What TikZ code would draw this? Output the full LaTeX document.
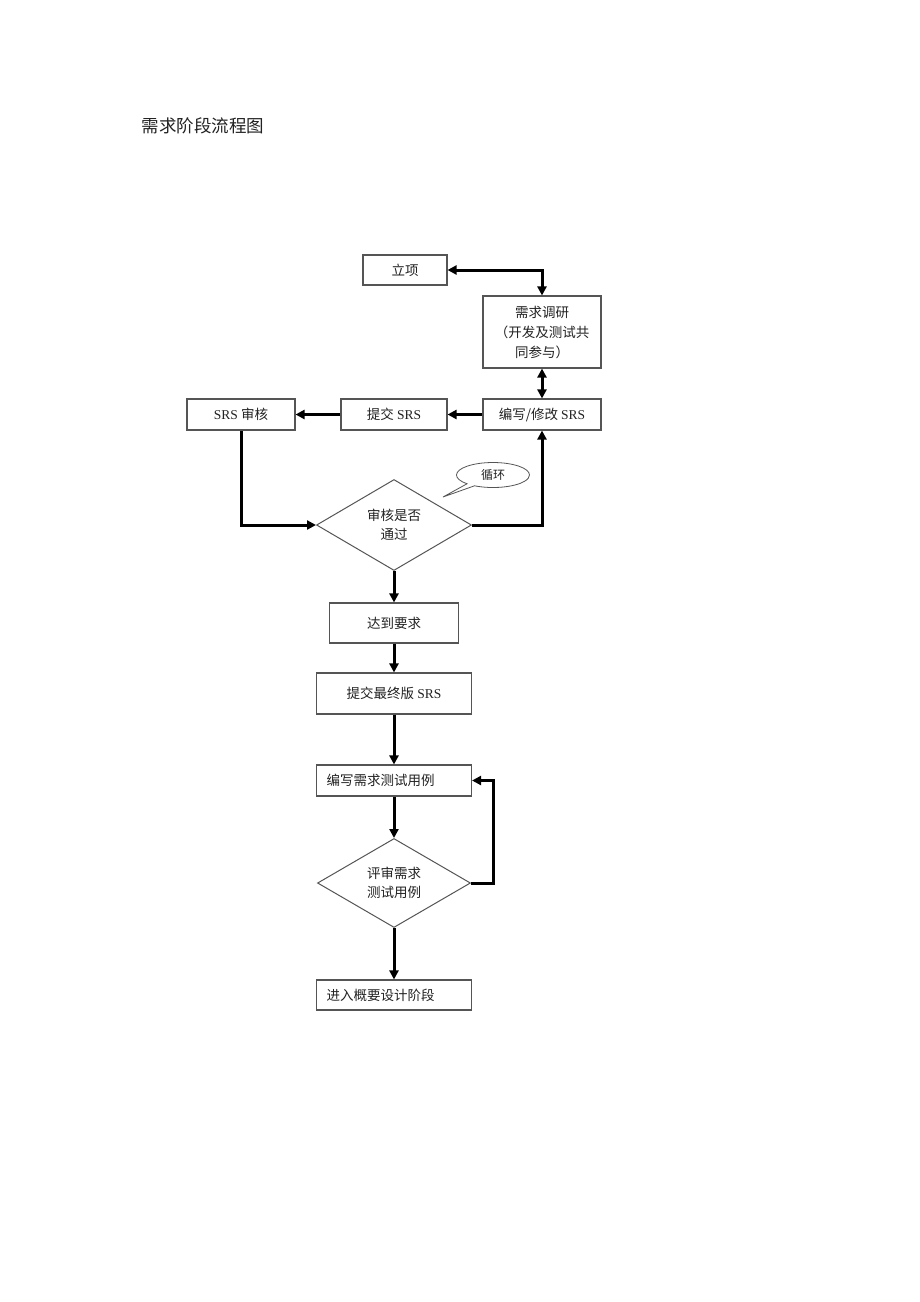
\documentclass[tikz,border=0pt]{standalone}
\usepackage{fontspec}
\setmainfont{Noto Sans CJK SC}
\newfontfamily\lat{Liberation Serif}
\usetikzlibrary{arrows.meta,shapes.geometric,shapes.callouts}
\definecolor{ink}{HTML}{222222}
\definecolor{edge}{HTML}{555555}
\tikzset{
  box/.style={draw=edge,line width=1.1pt,rectangle,inner sep=0pt,text=ink,
    font=\fontsize{13.5}{20}\selectfont,align=center},
  lbox/.style={box,align=left,text width=135pt,inner xsep=10pt},
  dia/.style={draw=edge,line width=1pt,diamond,inner sep=0pt,aspect=1.7,text=ink,
    font=\fontsize{13.5}{19}\selectfont,align=center},
  conn/.style={line width=3pt,black,
    arrows={-Triangle[length=9pt,width=9pt]}},
  dconn/.style={line width=3pt,black,
    arrows={Triangle[length=9pt,width=9pt]-Triangle[length=9pt,width=9pt]}}
}
\begin{document}
\begin{tikzpicture}[x=1pt,y=-1pt]
\useasboundingbox[fill=white] (0,0) rectangle (920,1302);
\node[anchor=west,text=ink,font=\fontsize{17.5}{20}\selectfont] (title) at (138,126) {需求阶段流程图};
\node[box,minimum width=84pt,minimum height=30pt] (lixiang) at (405,270) {立项};
\node[box,minimum width=118pt,minimum height=72pt] (xuqiu) at (542,332) {需求调研\\（开发及测试共\\同参与）};
\node[box,minimum width=118pt,minimum height=31pt] (bianxie) at (542,414.5) {编写/修改 {\lat SRS}};
\node[box,minimum width=106pt,minimum height=31pt] (tijiao) at (394,414.5) {提交 {\lat SRS}};
\node[box,minimum width=108pt,minimum height=31pt] (shenhe) at (241,414.5) {{\lat SRS} 审核};
\node[dia,minimum width=155pt,minimum height=91pt] (d1) at (394,525) {审核是否\\通过};
\node[draw=edge,line width=0.8pt,ellipse callout,callout absolute pointer={(443,497)},
  minimum width=73pt,minimum height=25pt,inner sep=0pt,text=ink,
  font=\fontsize{12}{14}\selectfont] (loopnote) at (493,475) {循环};
\node[box,minimum width=129pt,minimum height=40pt] (dadao) at (394,623) {达到要求};
\node[box,minimum width=155pt,minimum height=41pt] (final) at (394,693.5) {提交最终版 {\lat SRS}};
\node[lbox,minimum height=31pt] (bx) at (394,780.5) {编写需求测试用例};
\node[dia,minimum width=153pt,minimum height=89pt] (d2) at (394,883) {评审需求\\测试用例};
\node[lbox,minimum height=30pt] (jr) at (394,995) {进入概要设计阶段};
\coordinate (loop) at (493,883);
\draw[dconn] (lixiang.east) -| (xuqiu.north);
\draw[dconn] (xuqiu.south) -- (bianxie.north);
\draw[conn] (bianxie.west) -- (tijiao.east);
\draw[conn] (tijiao.west) -- (shenhe.east);
\draw[conn] (shenhe.south) |- (d1.west);
\draw[conn] (d1.east) -| (bianxie.south);
\draw[conn] (d1.south) -- (dadao.north);
\draw[conn] (dadao.south) -- (final.north);
\draw[conn] (final.south) -- (bx.north);
\draw[conn] (bx.south) -- (d2.north);
\draw[conn] (d2.east) -- (loop) |- (bx.east);
\draw[conn] (d2.south) -- (jr.north);
\end{tikzpicture}
\end{document}
